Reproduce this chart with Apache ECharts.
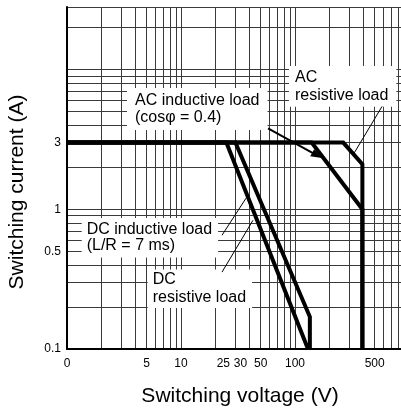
<!DOCTYPE html>
<html>
<head>
<meta charset="utf-8">
<script src="https://cdn.jsdelivr.net/npm/echarts@6/dist/echarts.min.js"></script>
<style>
  html, body { margin: 0; padding: 0; background: #fff; }
  #chart { width: 401px; height: 419px; }
</style>
</head>
<body>
<div id="chart"></div>
<script>
// Axis ticks and their printed labels
const xTickValues = [1, 5, 10, 25, 30, 50, 100, 500];
const xTickLabels = ['0', '5', '10', '25', '30', '50', '100', '500'];
const yTickValues = [0.1, 0.5, 1, 3];
const yTickLabels = ['0.1', '0.5', '1', '3'];

// Switching limits, [voltage V, current A]
const dcInductive = [[1, 3], [25, 3], [130, 0.1]];
const dcResistive = [[1, 3], [30, 3], [135, 0.17], [135, 0.1]];
const acInductive = [[1, 3], [140, 3], [390, 1], [390, 0.1]];
const acResistive = [[1, 3], [265, 3], [390, 2.1], [390, 0.1]];

// Pointer lines from the captions to the curves, [from, to]
const acInductiveArrow = [[58, 3.79], [156, 2.43]];
const acResistiveLeader = [[580, 5.44], [329, 2.51]];
const dcInductiveLeader = [[22.9, 0.652], [37.2, 1.2]];
const dcResistiveLeader = [[22.9, 0.355], [42.8, 0.834]];

// Log-paper rulings: 1..9 in every decade
function decadeLines(from, to) {
  const out = [];
  for (let d = from; d < to * 0.999; d *= 10) {
    for (let k = 1; k < 10; k++) out.push(+(k * d).toPrecision(3));
  }
  return out;
}
const xGridLines = decadeLines(1, 1000).concat([1000]);
const yGridLines = decadeLines(0.1, 10).concat([10, 20, 28]);

const FONT = "'Liberation Sans', Arial, Helvetica, sans-serif";

function findLabel(values, labels, v) {
  for (let i = 0; i < values.length; i++) {
    if (Math.abs(values[i] - v) < 1e-6 * values[i]) return labels[i];
  }
  return '';
}

const thick = { color: '#000', width: 4, join: 'miter', miterLimit: 10 };
function curve(name, data) {
  return {
    name, type: 'line', data, symbol: 'none', silent: true,
    lineStyle: thick, animation: false, z: 3
  };
}

function pointer(pair, width, head) {
  return [
    { coord: pair[0], symbol: 'none', lineStyle: { color: '#000', width, type: 'solid' } },
    { coord: pair[1], symbol: head ? 'triangle' : 'none', symbolSize: [8, 11],
      lineStyle: { color: '#000', width, type: 'solid' } }
  ];
}

const chart = echarts.init(document.getElementById('chart'), null, { renderer: 'canvas' });

const caption = (x, y, text, lineHeight, padding) => ({
  type: 'text', x, y, z: 1, silent: true,
  style: {
    text, fill: '#000', font: '16px ' + FONT, lineHeight,
    align: 'left', verticalAlign: 'top',
    backgroundColor: '#fff', padding
  }
});

chart.setOption({
  animation: false,
  backgroundColor: '#fff',
  grid: { left: 67, top: 7, width: 342, height: 342, containLabel: false, outerBoundsMode: 'none' },
  xAxis: {
    type: 'log', logBase: 10, min: 1, max: 1000,
    axisLine: { show: true, onZero: false, lineStyle: { color: '#000', width: 2 } },
    axisTick: { show: false, customValues: xGridLines },
    splitLine: { show: true, lineStyle: { color: '#3a3a3a', width: 1 } },
    minorSplitLine: { show: false },
    axisLabel: {
      customValues: xTickValues, margin: 9,
      color: '#000', fontSize: 12, fontFamily: FONT,
      formatter: (v) => {
        const t = findLabel(xTickValues, xTickLabels, v);
        if (t === '25') return '{l|25}';
        if (t === '30') return '{r|30}';
        return t;
      },
      rich: {
        l: { padding: [0, 6, 0, 0], fontSize: 12, fontFamily: FONT, color: '#000' },
        r: { padding: [0, 0, 0, 10], fontSize: 12, fontFamily: FONT, color: '#000' }
      }
    }
  },
  yAxis: {
    type: 'log', logBase: 10, min: 0.1, max: 28,
    axisLine: { show: true, onZero: false, lineStyle: { color: '#000', width: 2 } },
    axisTick: { show: false, customValues: yGridLines },
    splitLine: { show: true, lineStyle: { color: '#3a3a3a', width: 1 } },
    minorSplitLine: { show: false },
    axisLabel: {
      customValues: yTickValues, margin: 6,
      color: '#000', fontSize: 12, fontFamily: FONT,
      formatter: (v) => findLabel(yTickValues, yTickLabels, v)
    }
  },
  series: [
    Object.assign(curve('DC inductive load', dcInductive), {
      markLine: {
        silent: true, animation: false, symbol: ['none', 'none'],
        label: { show: false }, emphasis: { disabled: true },
        data: [
          pointer(acInductiveArrow, 2, true),
          pointer(acResistiveLeader, 1, false),
          pointer(dcInductiveLeader, 1, false),
          pointer(dcResistiveLeader, 1, false)
        ]
      }
    }),
    curve('DC resistive load', dcResistive),
    curve('AC inductive load', acInductive),
    curve('AC resistive load', acResistive)
  ],
  graphic: [
    caption(127, 88, 'AC inductive load\n(cosφ = 0.4)', 17, [4, 8, 4, 8]),
    caption(289, 66, 'AC\nresistive load', 17.4, [3, 8, 3, 6]),
    caption(81.7, 218, 'DC inductive load\n(L/R = 7 ms)', 16.7, [3, 6, 3, 5]),
    caption(147.7, 269.4, 'DC\nresistive load', 17.3, [2, 6, 2, 5]),
    {
      type: 'text', x: 240, y: 396, silent: true,
      style: { text: 'Switching voltage (V)', fill: '#000', font: '21px ' + FONT,
               align: 'center', verticalAlign: 'middle' }
    },
    {
      type: 'text', x: 17, y: 192, rotation: Math.PI / 2, silent: true,
      style: { text: 'Switching current (A)', fill: '#000', font: '21px ' + FONT,
               align: 'center', verticalAlign: 'middle' }
    }
  ]
});
</script>
</body>
</html>
